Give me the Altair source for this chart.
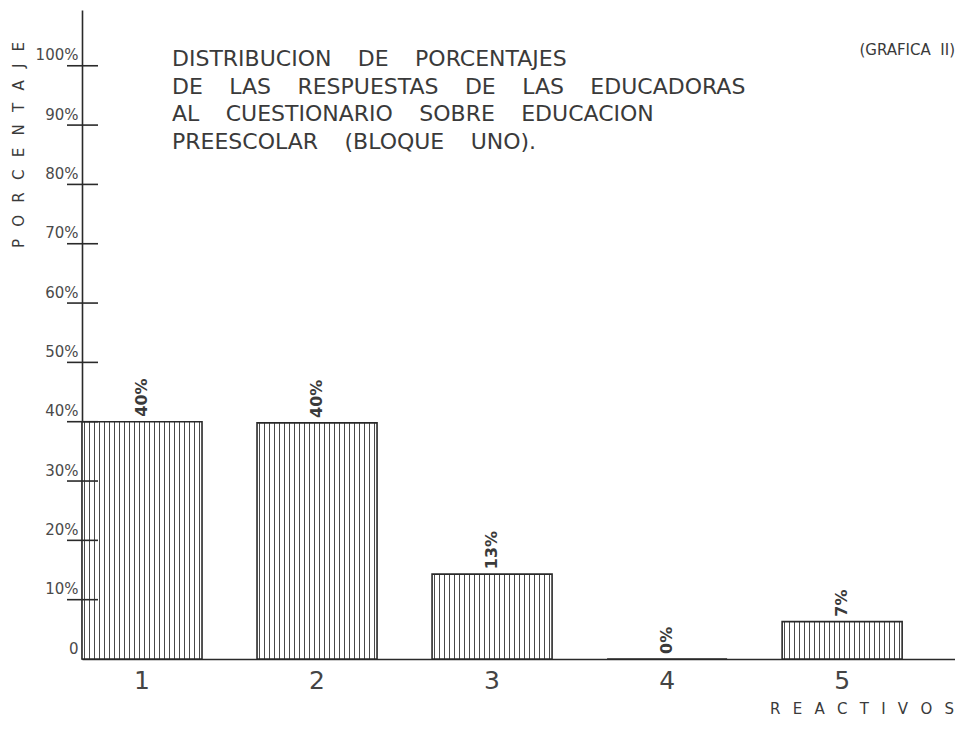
import altair as alt
import pandas as pd

# ---- data ----
reactivos = ["1", "2", "3", "4", "5"]
alturas = [40, 39.8, 14.3, 0, 6.3]
etiquetas = ["40%", "40%", "13%", "0%", "7%"]
marcas_y = [10, 20, 30, 40, 50, 60, 70, 80, 90, 100]
valores_eje = [0, 10, 20, 30, 40, 50, 60, 70, 80, 90, 100]

NB = "\u00a0"
G = "\u2003\u2009"
titulo = [
    G.join(["DISTRIBUCION", "DE", "PORCENTAJES"]),
    G.join(["DE", "LAS", "RESPUESTAS", "DE", "LAS", "EDUCADORAS"]),
    G.join(["AL", "CUESTIONARIO", "SOBRE", "EDUCACION"]),
    G.join(["PREESCOLAR", "(BLOQUE", "UNO)."]),
]
grafica = "(GRAFICA" + NB + NB + "II)"
SP = "\u2002" + NB
titulo_y = SP.join(list("PORCENTAJE"))
titulo_x = SP.join(list("REACTIVOS"))

FONT = "DejaVu Sans"
INK = "#3a3a3a"

df = pd.DataFrame({"reactivo": reactivos, "altura": alturas, "etiqueta": etiquetas})
df_ticks = pd.DataFrame({"altura": marcas_y})

yscale = alt.Scale(domain=[0, 109.4], nice=False, zero=True)
xscale = alt.Scale(paddingInner=0.3143, paddingOuter=0.151, align=0)

xaxis = alt.Axis(
    title=None,
    labelAngle=0,
    labelFont=FONT,
    labelFontSize=25,
    labelColor="#444444",
    labelPadding=9,
    ticks=False,
    domain=True,
    domainColor="#2a2a2a",
    domainWidth=1.6,
    grid=False,
)
yaxis = alt.Axis(
    title=None,
    values=valores_eje,
    labelExpr="datum.value == 0 ? '0' : datum.value + '%'",
    labelFont=FONT,
    labelFontSize=15,
    labelColor="#4a4a4a",
    labelPadding=4,
    labelBaseline="bottom",
    labelOffset=-3,
    ticks=False,
    domain=True,
    domainColor="#2a2a2a",
    domainWidth=1.6,
    grid=False,
)

# vertical hatching as a hard-stop gradient
n = 24
stops = []
for k in range(n):
    a = (k + 0.38) / n
    b = (k + 0.62) / n
    stops += [
        {"offset": k / n, "color": "#ffffff"},
        {"offset": a, "color": "#ffffff"},
        {"offset": a, "color": "#4a4a4a"},
        {"offset": b, "color": "#4a4a4a"},
        {"offset": b, "color": "#ffffff"},
    ]
stops.append({"offset": 1, "color": "#ffffff"})
hatch = {"gradient": "linear", "x1": 0, "y1": 0, "x2": 1, "y2": 0, "stops": stops}

X = alt.X("reactivo:N", scale=xscale, sort=reactivos, axis=xaxis)
Y = alt.Y("altura:Q", scale=yscale, axis=yaxis)

bars = alt.Chart(df).mark_bar(fill=hatch, stroke="#2a2a2a", strokeWidth=1.6).encode(x=X, y=Y)

ticks = alt.Chart(df_ticks).mark_rule(color="#2a2a2a", strokeWidth=1.6).encode(
    y=Y,
    x=alt.value(-15),
    x2=alt.value(16),
)

labels = alt.Chart(df).mark_text(
    angle=270, align="left", baseline="middle", dx=5,
    font=FONT, fontSize=16, fontWeight="bold", color=INK,
).encode(x=X, y=Y, text="etiqueta:N")

one = pd.DataFrame({"k": [0]})

title_mark = alt.Chart(one).mark_text(
    align="left", baseline="alphabetic", font=FONT, fontSize=22, color=INK,
    lineHeight=27.7, text=titulo,
).encode(x=alt.value(90), y=alt.value(56))

graf_mark = alt.Chart(one).mark_text(
    align="right", baseline="alphabetic", font=FONT, fontSize=15, color=INK,
    text=grafica,
).encode(x=alt.value(873), y=alt.value(45))

ytitle = alt.Chart(one).mark_text(
    angle=270, align="center", baseline="middle", font=FONT, fontSize=15, color=INK,
    text=titulo_y,
).encode(x=alt.value(-63), y=alt.value(135))

xtitle = alt.Chart(one).mark_text(
    align="right", baseline="alphabetic", font=FONT, fontSize=15, color=INK,
    text=titulo_x,
).encode(x=alt.value(872), y=alt.value(704))

chart = (
    alt.layer(bars, ticks, labels, title_mark, graf_mark, ytitle, xtitle)
    .properties(
        width=873,
        height=649,
        padding={"left": 74, "top": 2, "right": 0, "bottom": 64},
        autosize=alt.AutoSizeParams(type="none"),
        background="white",
    )
    .configure_view(stroke=None)
)

chart.save("out.html", embed_options={"renderer": "svg", "actions": False})
